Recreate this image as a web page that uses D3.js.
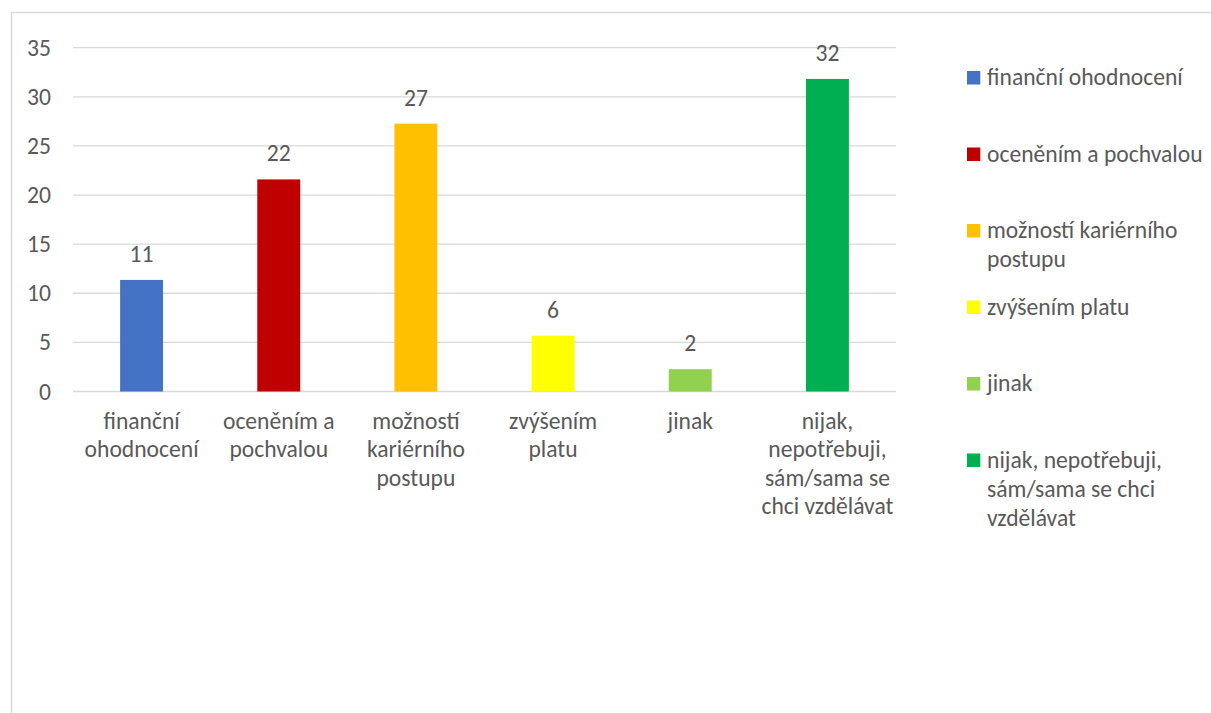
<!DOCTYPE html>
<html>
<head>
<meta charset="utf-8">
<script src="https://cdn.jsdelivr.net/npm/d3@7"></script>
<style>
  body { margin: 0; background: #fff; overflow: hidden; }
  svg { display: block; }
  svg text { font-family: Calibri, Carlito, Lato, sans-serif; fill: #595959; }
</style>
</head>
<body>
<div id="chart"></div>
<script>
// Données
const categories = [
    'finanční ohodnocení',
    'oceněním a pochvalou',
    'možností kariérního postupu',
    'zvýšením platu',
    'jinak',
    'nijak, nepotřebuji, sám/sama se chci vzdělávat'
];
const values = [11.36, 21.59, 27.27, 5.68, 2.27, 31.82];
const colors = ['#4472C4', '#C00000', '#FFC000', '#FFFF00', '#92D050', '#00B050'];
const yTicks = [0, 5, 10, 15, 20, 25, 30, 35];
// retours à la ligne des libellés
const axisLines = [
    ['finanční', 'ohodnocení'],
    ['oceněním a', 'pochvalou'],
    ['možností', 'kariérního', 'postupu'],
    ['zvýšením', 'platu'],
    ['jinak'],
    ['nijak,', 'nepotřebuji,', 'sám/sama se', 'chci vzdělávat']
];
const legendLines = [
    ['finanční ohodnocení'],
    ['oceněním a pochvalou'],
    ['možností kariérního', 'postupu'],
    ['zvýšením platu'],
    ['jinak'],
    ['nijak, nepotřebuji,', 'sám/sama se chci', 'vzdělávat']
];

const width = 1211, height = 713;
const plot = { left: 73, right: 896, top: 47.7, bottom: 391.5 };
const fontSize = 23.6;

const svg = d3.select('#chart')
    .append('svg')
    .attr('width', width)
    .attr('height', height);

// cadre du graphique
svg.append('rect')
    .attr('x', 11.5).attr('y', 12.5)
    .attr('width', width + 10).attr('height', height + 10)
    .attr('fill', 'none')
    .attr('stroke', '#d9d9d9')
    .attr('stroke-width', 1.5);

// Scales
const xScale = d3.scaleBand()
    .domain(categories)
    .range([plot.left, plot.right])
    .padding(0);

const yScale = d3.scaleLinear()
    .domain([0, 35])
    .range([plot.bottom, plot.top]);

const barWidth = xScale.bandwidth() * 0.313;

// grille
svg.append('g')
    .selectAll('line')
    .data(yTicks)
    .enter()
    .append('line')
    .attr('x1', plot.left)
    .attr('x2', plot.right)
    .attr('y1', d => yScale(d))
    .attr('y2', d => yScale(d))
    .attr('stroke', '#d9d9d9')
    .attr('stroke-width', 1.3);

// axe Y (libellés seulement)
const yAxis = svg.append('g')
    .attr('transform', `translate(${plot.left - 22},0)`)
    .call(d3.axisLeft(yScale).tickValues(yTicks).tickSize(0).tickPadding(0));
yAxis.select('.domain').remove();
yAxis.selectAll('text')
    .attr('font-size', fontSize)
    .attr('font-family', null)
    .attr('fill', '#595959');
yAxis.attr('font-family', null).attr('font-size', null);

// Barres
svg.append('g')
    .selectAll('rect')
    .data(values)
    .enter()
    .append('rect')
    .attr('x', (d, i) => xScale(categories[i]) + (xScale.bandwidth() - barWidth) / 2)
    .attr('y', d => yScale(d))
    .attr('width', barWidth)
    .attr('height', d => yScale(0) - yScale(d))
    .attr('fill', (d, i) => colors[i]);

// étiquettes de données
svg.append('g')
    .selectAll('text')
    .data(values)
    .enter()
    .append('text')
    .attr('x', (d, i) => xScale(categories[i]) + xScale.bandwidth() / 2)
    .attr('y', d => yScale(d) - 18)
    .attr('text-anchor', 'middle')
    .attr('font-size', fontSize)
    .text(d => Math.round(d));

// libellés de l'axe X
const xLabels = svg.append('g')
    .selectAll('text')
    .data(categories)
    .enter()
    .append('text')
    .attr('text-anchor', 'middle')
    .attr('font-size', fontSize)
    .attr('y', 429);
xLabels.selectAll('tspan')
    .data((d, i) => axisLines[i].map(l => ({ l, x: xScale(d) + xScale.bandwidth() / 2 })))
    .enter()
    .append('tspan')
    .attr('x', d => d.x)
    .attr('dy', (d, i) => i === 0 ? 0 : 28.3)
    .text(d => d.l);

// Légende
const legend = svg.append('g')
    .selectAll('g')
    .data(categories)
    .enter()
    .append('g')
    .attr('transform', (d, i) => `translate(967,${85 + i * 76.5})`);

legend.append('rect')
    .attr('x', 0)
    .attr('y', -14)
    .attr('width', 13.3)
    .attr('height', 13.5)
    .attr('fill', (d, i) => colors[i]);

legend.append('text')
    .attr('font-size', fontSize)
    .selectAll('tspan')
    .data((d, i) => legendLines[i])
    .enter()
    .append('tspan')
    .attr('x', 20)
    .attr('dy', (d, i) => i === 0 ? 0 : 29)
    .text(d => d);
</script>
</body>
</html>
